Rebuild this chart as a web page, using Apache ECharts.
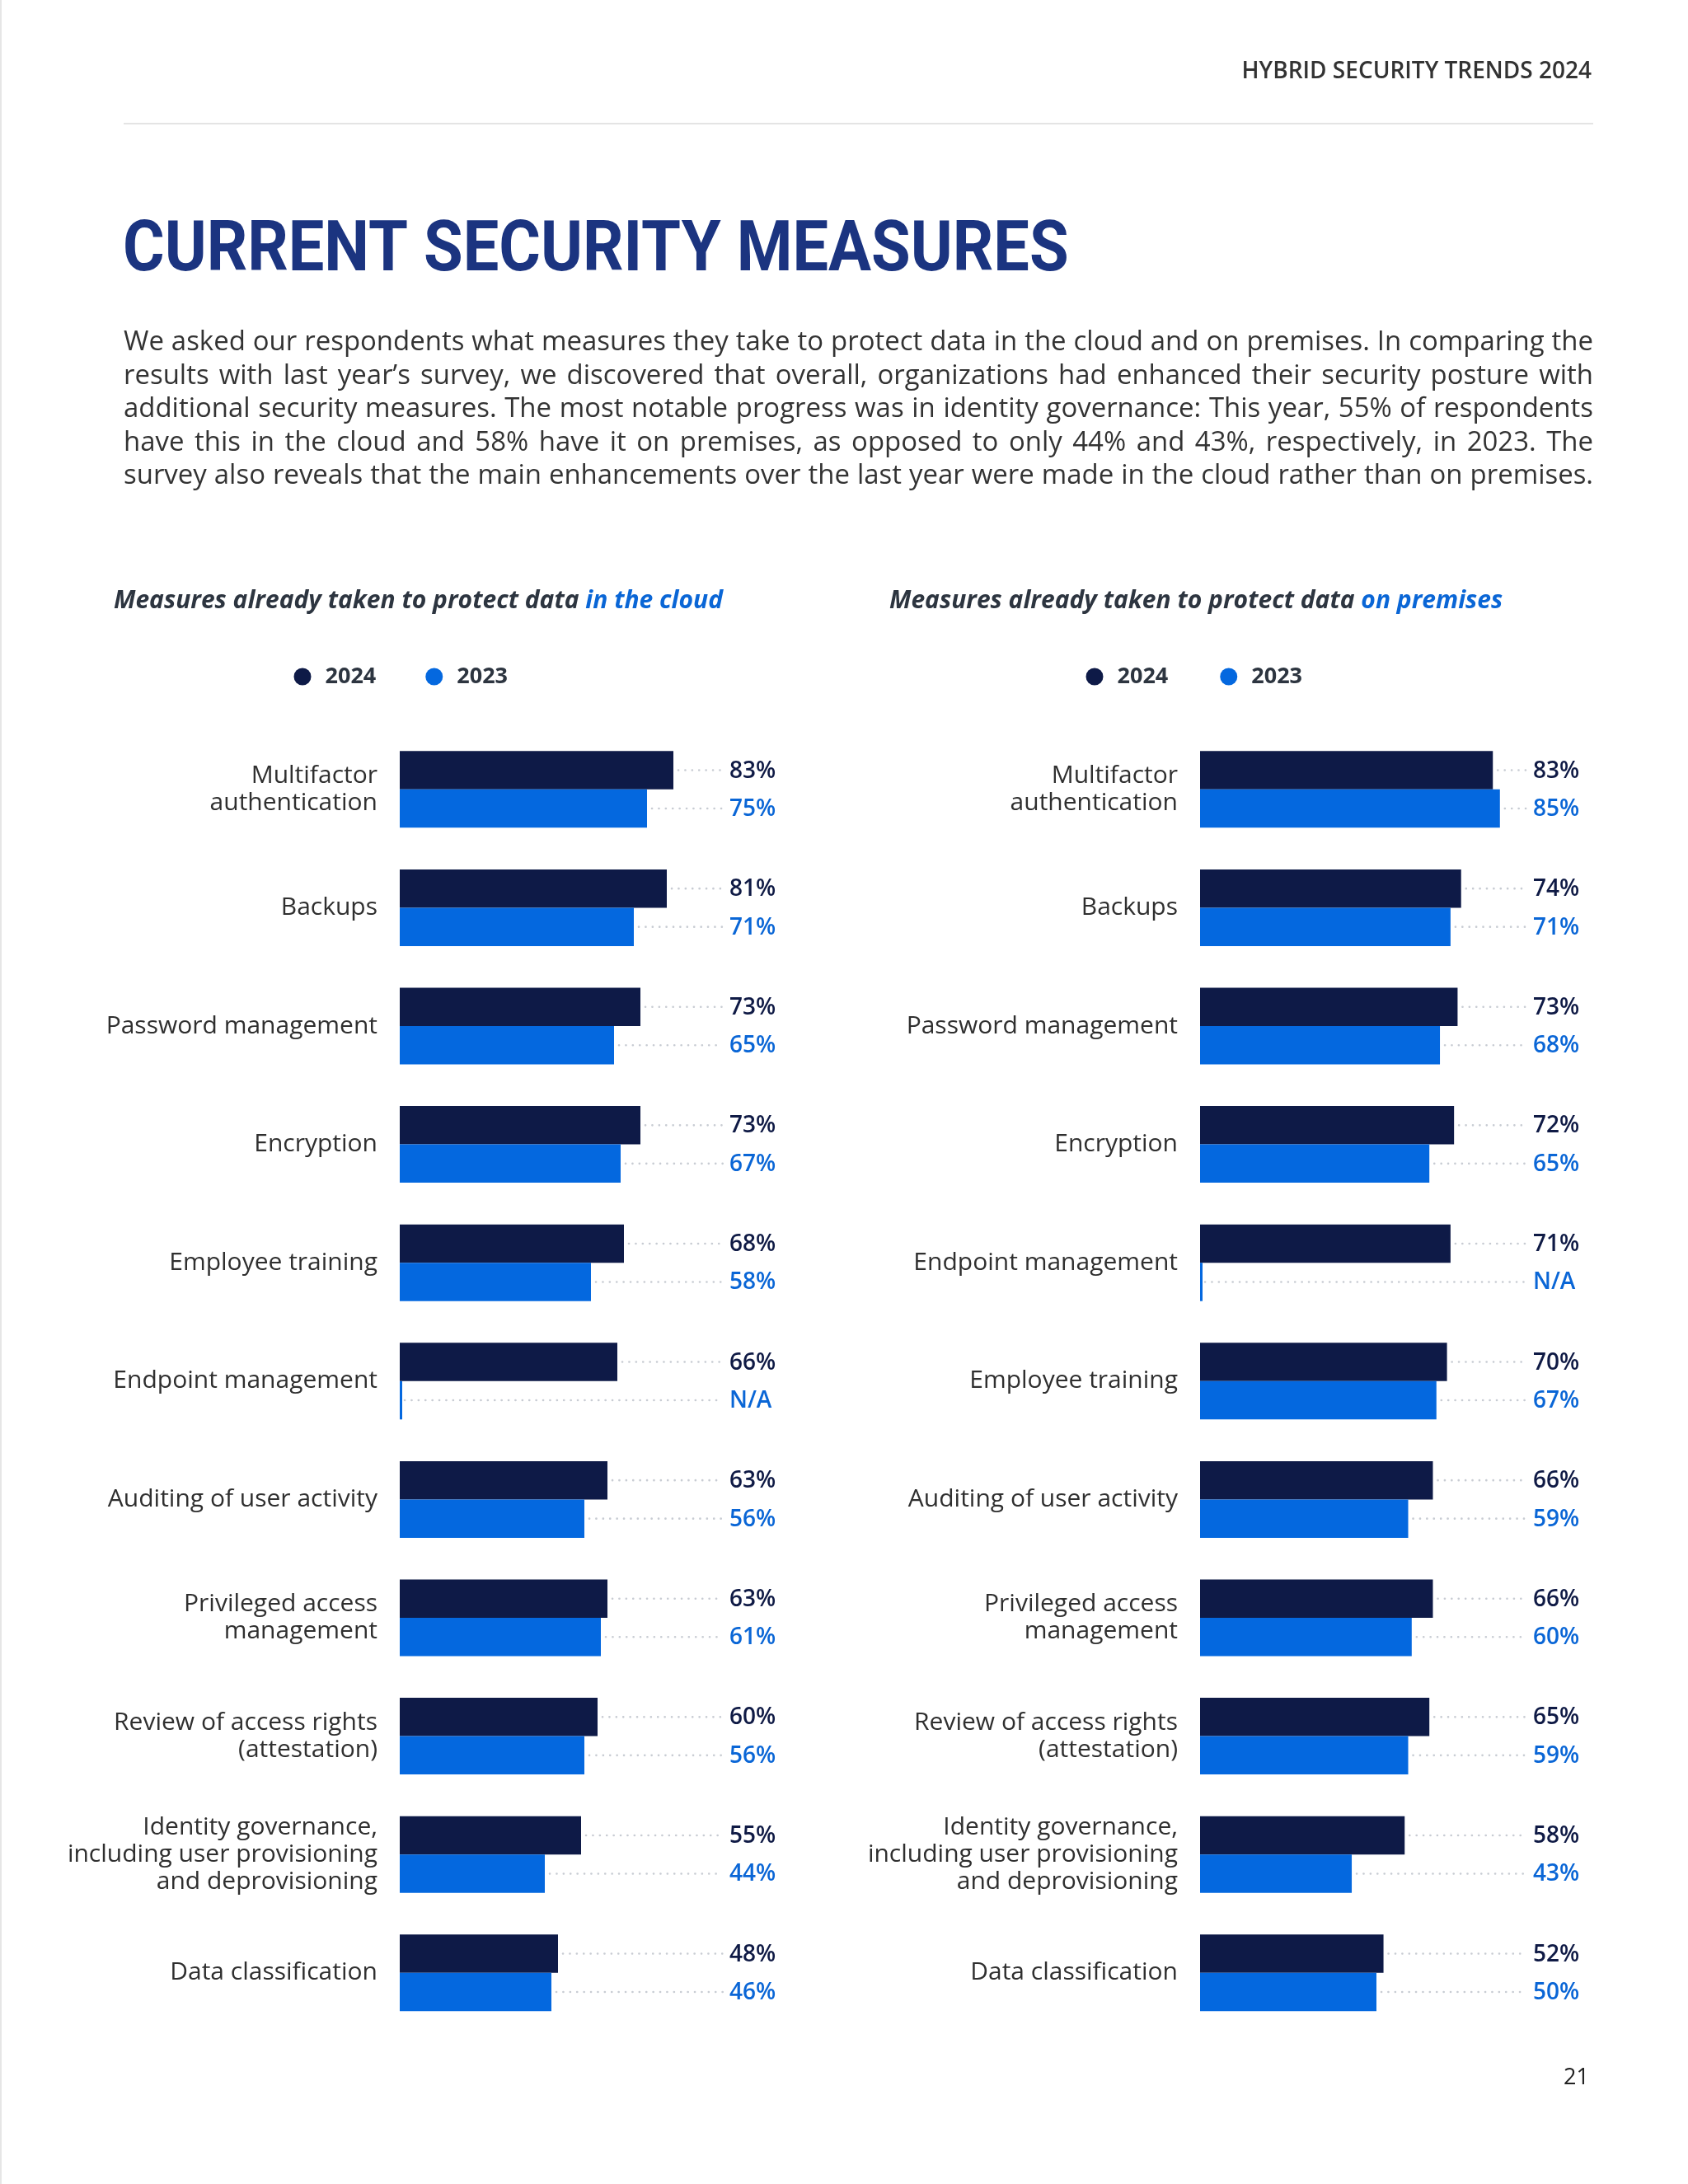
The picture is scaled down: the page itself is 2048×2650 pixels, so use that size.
<!DOCTYPE html>
<html>
<head>
<meta charset="utf-8">
<script src="https://cdn.jsdelivr.net/npm/echarts@6/dist/echarts.min.js"></script>
<style>
html,body{margin:0;padding:0;background:#fff;}
#chart{position:absolute;left:0;top:0;width:2048px;height:2650px;}
#para{position:absolute;left:150px;top:393px;width:1783px;font-family:"Open Sans",sans-serif;font-size:30px;line-height:40.5px;color:#333;z-index:2;}
#para div{text-align:justify;text-align-last:justify;}
</style>
</head>
<body>
<div id="chart"></div>
<div id="para"></div>
<script>
// ---------- data ----------
const seriesNames = ['2024', '2023'];

const cloudCategories = [
  'Multifactor\nauthentication', 'Backups', 'Password management', 'Encryption',
  'Employee training', 'Endpoint management', 'Auditing of user activity',
  'Privileged access\nmanagement', 'Review of access rights\n(attestation)',
  'Identity governance,\nincluding user provisioning\nand deprovisioning', 'Data classification'
];
const cloud2024 = [83, 81, 73, 73, 68, 66, 63, 63, 60, 55, 48];
const cloud2023 = [75, 71, 65, 67, 58, null, 56, 61, 56, 44, 46];

const premCategories = [
  'Multifactor\nauthentication', 'Backups', 'Password management', 'Encryption',
  'Endpoint management', 'Employee training', 'Auditing of user activity',
  'Privileged access\nmanagement', 'Review of access rights\n(attestation)',
  'Identity governance,\nincluding user provisioning\nand deprovisioning', 'Data classification'
];
const prem2024 = [83, 74, 73, 72, 71, 70, 66, 66, 65, 58, 52];
const prem2023 = [85, 71, 68, 65, null, 67, 59, 60, 59, 43, 50];

const headerText = 'HYBRID SECURITY TRENDS 2024';
const titleText = 'CURRENT SECURITY MEASURES';
const paragraphLines = [
  'We asked our respondents what measures they take to protect data in the cloud and on premises. In comparing the',
  'results with last year\u2019s survey, we discovered that overall, organizations had enhanced their security posture with',
  'additional security measures. The most notable progress was in identity governance: This year, 55% of respondents',
  'have this in the cloud and 58% have it on premises, as opposed to only 44% and 43%, respectively, in 2023. The',
  'survey also reveals that the main enhancements over the last year were made in the cloud rather than on premises.'
];
const subtitleLeft = ['Measures already taken to protect data ', 'in the cloud'];
const subtitleRight = ['Measures already taken to protect data ', 'on premises'];
const pageNumber = '21';

// ---------- styles ----------
const FONT = '"Open Sans", sans-serif';
const C2024 = '#0e1a47';
const C2023 = '#0468df';
const LBL2024 = '#0f1a45';
const LBL2023 = '#0a66d6';
const DARK = '#2d3540';
const BAR_W = 46.5;

// paragraph: fit font so the longest line just fills the column, then justify each line
(function () {
  const para = document.getElementById('para');
  const cv = document.createElement('canvas').getContext('2d');
  cv.font = '30px "Open Sans"';
  let maxW = 0;
  paragraphLines.forEach(l => { maxW = Math.max(maxW, cv.measureText(l).width); });
  const size = Math.min(36, 30 * 1776 / maxW);
  para.style.fontSize = size.toFixed(2) + 'px';
  para.innerHTML = paragraphLines.map(l => '<div>' + l + '</div>').join('');
})();

const chart = echarts.init(document.getElementById('chart'), null, {renderer: 'canvas'});

function labelSeries(values, gi, isTop, color, shift) {
  return {
    type: 'custom',
    xAxisIndex: gi, yAxisIndex: gi,
    silent: true, z: 5,
    data: values.map((v, i) => [v === null ? 0 : v, i]),
    encode: {x: 0, y: 1},
    renderItem: function (params, api) {
      const i = api.value(1);
      const v = values[i];
      const c = api.coord([0, i]);
      const y = c[1] + (isTop ? -1 : 1) * BAR_W / 2;
      const xEnd = api.coord([v === null ? 0 : v, i])[0];
      const xLab = api.coord([100, i])[0] + shift;
      return {
        type: 'group',
        children: [
          {
            type: 'line',
            shape: {x1: xEnd + 6, y1: y, x2: xLab - 8, y2: y},
            style: {stroke: '#c8ccd3', lineWidth: 2.6, lineDash: [0.1, 8.3], lineCap: 'round'}
          },
          {
            type: 'text',
            x: xLab, y: y + 1,
            style: {
              text: v === null ? 'N/A' : v + '%',
              fill: color,
              font: '600 28px "Open Sans", sans-serif',
              align: 'left', verticalAlign: 'middle'
            }
          }
        ]
      };
    }
  };
}

function barSeries(name, values, gi, color) {
  return {
    name: name, type: 'bar',
    xAxisIndex: gi, yAxisIndex: gi,
    data: values.map(v => v === null ? 0 : v),
    barWidth: BAR_W, barGap: '0%', barMinHeight: 3,
    itemStyle: {color: color},
    silent: true, z: 2
  };
}

const grids = [
  {left: 485, top: 886, width: 400, height: 1579.6},
  {left: 1456, top: 886, width: 428, height: 1579.6}
];

function yAxisFor(gi, cats) {
  return {
    type: 'category', gridIndex: gi, inverse: true, data: cats,
    axisLine: {show: false}, axisTick: {show: false}, splitLine: {show: false},
    axisLabel: {margin: 27, fontFamily: FONT, fontSize: 30, lineHeight: 33, color: '#2f2f2f'}
  };
}
function xAxisFor(gi) {
  return {type: 'value', gridIndex: gi, min: 0, max: 100, show: false, splitLine: {show: false}};
}

function legendFor(left, gap) {
  return {
    data: seriesNames, left: left, top: 806, orient: 'horizontal', padding: 0,
    icon: 'circle', itemWidth: 21, itemHeight: 21, itemGap: gap,
    selectedMode: false,
    textStyle: {fontFamily: FONT, fontWeight: 700, fontSize: 27, color: DARK, padding: [0, 0, 0, 12], lineHeight: 30}
  };
}

function subtitle(x, parts) {
  return {
    type: 'text', x: x, y: 729,
    style: {
      text: '{a|' + parts[0] + '}{b|' + parts[1] + '}',
      verticalAlign: 'middle', align: 'left',
      rich: {
        a: {fontFamily: FONT, fontSize: 30, fontWeight: 700, fontStyle: 'italic', fill: DARK, color: DARK},
        b: {fontFamily: FONT, fontSize: 30, fontWeight: 700, fontStyle: 'italic', fill: '#0a66d6', color: '#0a66d6'}
      }
    }
  };
}

const option = {
  animation: false,
  backgroundColor: '#ffffff',
  grid: grids,
  xAxis: [xAxisFor(0), xAxisFor(1)],
  yAxis: [yAxisFor(0, cloudCategories), yAxisFor(1, premCategories)],
  legend: [legendFor(356.5, 60), legendFor(1317.5, 63)],
  series: [
    barSeries(seriesNames[0], cloud2024, 0, C2024),
    barSeries(seriesNames[1], cloud2023, 0, C2023),
    barSeries(seriesNames[0], prem2024, 1, C2024),
    barSeries(seriesNames[1], prem2023, 1, C2023),
    labelSeries(cloud2024, 0, true, LBL2024, 0),
    labelSeries(cloud2023, 0, false, LBL2023, 0),
    labelSeries(prem2024, 1, true, LBL2024, -24),
    labelSeries(prem2023, 1, false, LBL2023, -24)
  ],
  graphic: [
    {type: 'rect', shape: {x: 0, y: 0, width: 2, height: 2650}, style: {fill: '#e6e6e6'}, silent: true},
    {type: 'text', x: 1931, y: 87, style: {text: headerText, font: '600 28px "Open Sans", sans-serif', fill: '#333333', align: 'right', verticalAlign: 'middle'}},
    {type: 'line', shape: {x1: 150, y1: 150, x2: 1933, y2: 150}, style: {stroke: '#e4e4e4', lineWidth: 2}},
    {type: 'text', x: 149, y: 306, scaleX: 0.9, style: {text: titleText, font: 'bold 86px Roboto, sans-serif', fill: '#1b3480', align: 'left', verticalAlign: 'middle'}},
    subtitle(138, subtitleLeft),
    subtitle(1079, subtitleRight),
    {type: 'text', x: 1928, y: 2521, style: {text: pageNumber, font: '27px "Open Sans", sans-serif', fill: '#222222', align: 'right', verticalAlign: 'middle'}}
  ]
};
chart.setOption(option);
</script>
</body>
</html>
